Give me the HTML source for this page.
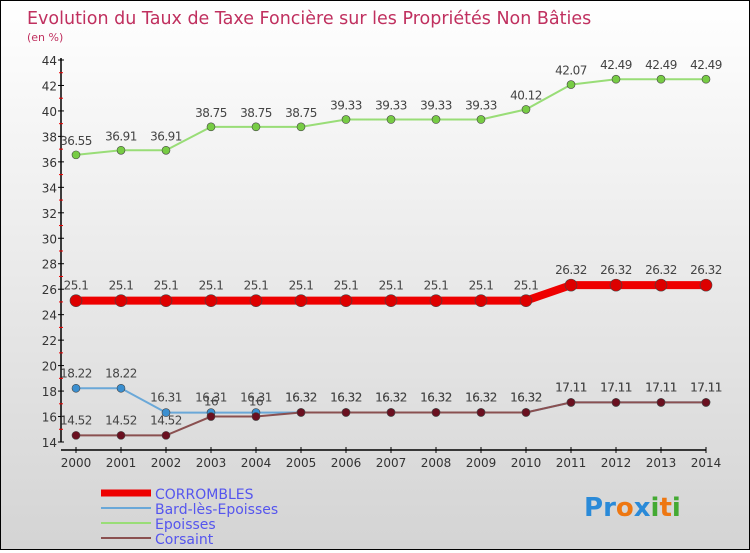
<!DOCTYPE html>
<html><head><meta charset="utf-8"><style>
body{margin:0;width:750px;height:550px;overflow:hidden;font-family:"DejaVu Sans","Liberation Sans",sans-serif}
#wrap{position:relative;width:748px;height:548px;border:1px solid #000;background:linear-gradient(#fff,#d4d4d4)}
</style></head><body>
<div id="wrap">
<svg id="chart" width="748" height="548"></svg>
</div>
<script>
const years=[2000,2001,2002,2003,2004,2005,2006,2007,2008,2009,2010,2011,2012,2013,2014];
const corrombles=[25.1,25.1,25.1,25.1,25.1,25.1,25.1,25.1,25.1,25.1,25.1,26.32,26.32,26.32,26.32];
const bard=[18.22,18.22,16.31,16.31,16.31,16.32,16.32,16.32,16.32,16.32,16.32,17.11,17.11,17.11,17.11];
const epoisses=[36.55,36.91,36.91,38.75,38.75,38.75,39.33,39.33,39.33,39.33,40.12,42.07,42.49,42.49,42.49];
const corsaint=[14.52,14.52,14.52,16,16,16.32,16.32,16.32,16.32,16.32,16.32,17.11,17.11,17.11,17.11];
const yTicks=[14,16,18,20,22,24,26,28,30,32,34,36,38,40,42,44];
const NS="http://www.w3.org/2000/svg";
const svg=document.getElementById('chart');
const X=i=>75+i*(630/(years.length-1));
const Y=v=>441-(v-14)*(382/30);
function mk(t,a,p){const e=document.createElementNS(NS,t);for(const k in a)e.setAttribute(k,a[k]);(p||svg).appendChild(e);return e;}
let t=mk('text',{x:26,y:23,'font-size':17.5,fill:'#c0305f'});t.textContent='Evolution du Taux de Taxe Foncière sur les Propriétés Non Bâties';

t=mk('text',{x:26,y:40,'font-size':11,fill:'#c0305f'});t.textContent='(en %)';

let ax=mk('line',{x1:60,y1:Y(44)-2,x2:60,y2:Y(14),stroke:'#000','stroke-width':1.5});

ax=mk('line',{x1:60,y1:449,x2:X(14),y2:449,stroke:'#000','stroke-width':1.5});

yTicks.forEach(v=>{mk('line',{x1:57,x2:63,y1:Y(v),y2:Y(v),stroke:'#000'});
 if(v<44)mk('line',{x1:58,x2:62,y1:Y(v+1),y2:Y(v+1),stroke:'#e00'});
 const l=mk('text',{x:56,y:Y(v)+5,'font-size':12,'text-anchor':'end',fill:'#333'});l.textContent=v;
 });
years.forEach((yr,i)=>{mk('line',{x1:X(i),x2:X(i),y1:446,y2:452,stroke:'#000'});
 const l=mk('text',{x:X(i),y:466,'font-size':12,'text-anchor':'middle',fill:'#333'});l.textContent=yr;
 });
function series(name,vals,color,w,r,fill,labels,dy){
 const g=mk('g',{});
 mk('polyline',{points:vals.map((v,i)=>X(i)+','+Y(v)).join(' '),fill:'none',stroke:color,'stroke-width':w},g);
 vals.forEach((v,i)=>{const c=mk('circle',{cx:X(i),cy:Y(v),r:r,fill:fill,stroke:'#444','stroke-width':0.6},g);
  
  if(labels){const l=mk('text',{x:X(i),y:Y(v)+dy,'font-size':12,'text-anchor':'middle',fill:'#444','letter-spacing':'-0.5'},g);l.textContent=v;
  }});
}
series('epoisses',epoisses,'#99dd77',2,4,'#77cc44',true,-10);
series('corrombles',corrombles,'#ee0000',8,6,'#dd0000',true,-11);
series('bard',bard,'#6aa8d8',2,4,'#3a8fd0',true,-11);
series('corsaint',corsaint,'#8a5050',2,4,'#6a1020',true,-11);
const leg=[['CORROMBLES','#ee0000',7],['Bard-lès-Epoisses','#6aa8d8',2],['Epoisses','#99dd77',2],['Corsaint','#8a5050',2]];
leg.forEach((e,i)=>{const g=mk('g',{});
 const y=492+i*15;mk('line',{x1:100,x2:150,y1:y,y2:y,stroke:e[1],'stroke-width':e[2]},g);
 const l=mk('text',{x:154,y:y+6,'font-size':14,fill:'#5555ee'},g);l.textContent=e[0];});
const logo=mk('text',{x:583,y:515,'font-size':26,'font-weight':'bold'});
[['P','#2a8ad8'],['r','#2a8ad8'],['o','#ee7711'],['x','#2a8ad8'],['i','#44aa33'],['t','#ee7711'],['i','#44aa33']].forEach(c=>{const s=mk('tspan',{fill:c[1]},logo);s.textContent=c[0];});
</script>
</body></html>
